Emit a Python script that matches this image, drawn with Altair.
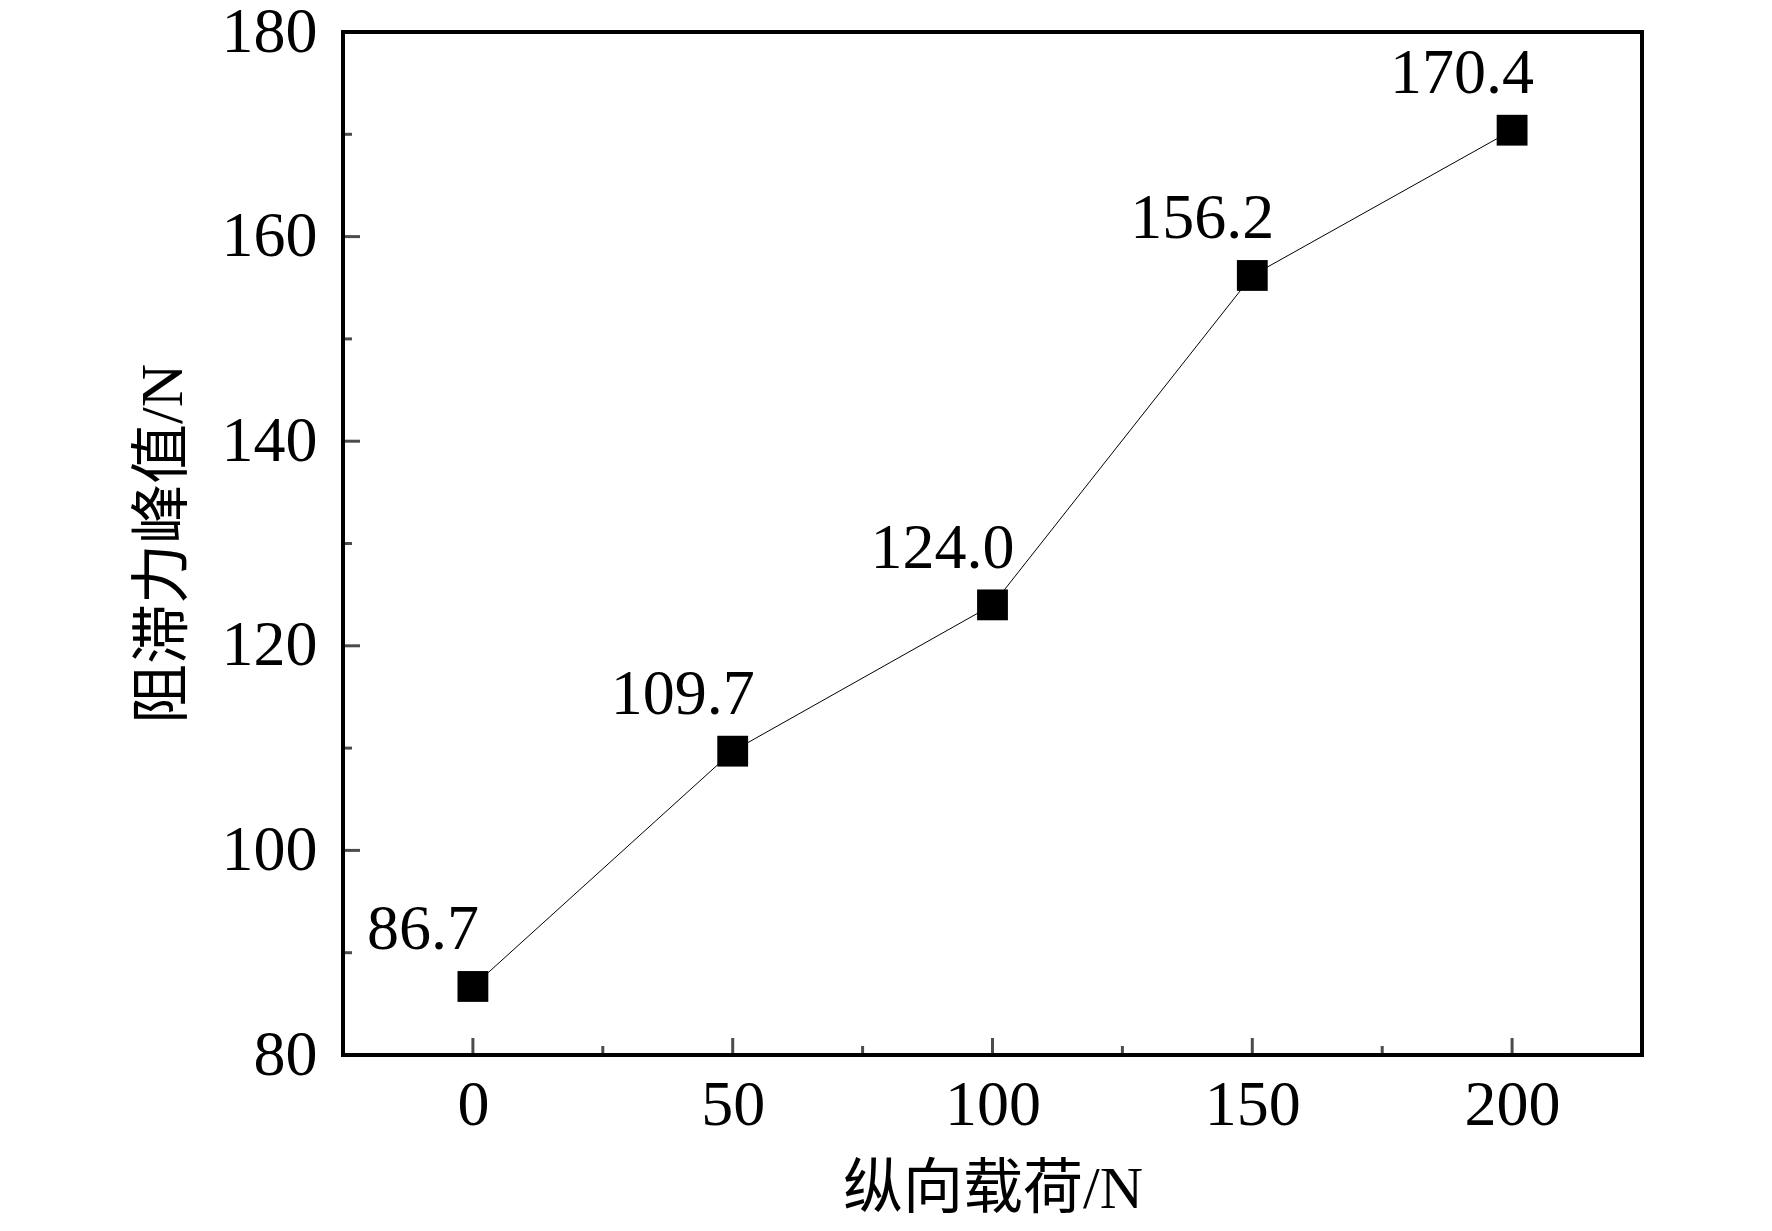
import altair as alt
import pandas as pd

loads = [0, 50, 100, 150, 200]
peaks = [86.7, 109.7, 124.0, 156.2, 170.4]
x_major = [0, 50, 100, 150, 200]
x_minor = [25, 75, 125, 175]
y_major = [80, 100, 120, 140, 160, 180]
y_minor = [90, 110, 130, 150, 170]

df = pd.DataFrame({"load": loads, "peak": peaks})
FONT = "Liberation Serif, Times New Roman, Noto Sans CJK SC"
W, H = 1299, 1023

xs = alt.Scale(domain=[-25, 225], nice=False, zero=False)
ys = alt.Scale(domain=[80, 180], nice=False, zero=False)

x_axis = alt.Axis(values=x_major, ticks=False, domain=False, grid=False,
                  labelFont=FONT, labelFontSize=64, labelColor="black",
                  labelPadding=18, title="纵向载荷/N", titleFont=FONT,
                  titleFontSize=60, titleFontWeight="normal", titleColor="black",
                  titleX=W / 2, titleY=134, titleBaseline="middle", titleAlign="center")
y_axis = alt.Axis(values=y_major, ticks=False, domain=False, grid=False,
                  labelFont=FONT, labelFontSize=64, labelColor="black",
                  labelPadding=26, title="阻滞力峰值/N", titleFont=FONT,
                  titleFontSize=60, titleFontWeight="normal", titleColor="black",
                  titleX=-180, titleY=H / 2, titleAngle=-90,
                  titleBaseline="middle", titleAlign="center")

line = alt.Chart(df).mark_line(color="black", strokeWidth=1).encode(
    x=alt.X("load:Q", scale=xs, axis=x_axis),
    y=alt.Y("peak:Q", scale=ys, axis=y_axis),
)
pts = alt.Chart(df).mark_point(shape="square", filled=True, color="black",
                               size=950, opacity=1).encode(
    x=alt.X("load:Q", scale=xs), y=alt.Y("peak:Q", scale=ys))
labels = alt.Chart(df).mark_text(font=FONT, fontSize=64, color="black",
                                 dx=-50, dy=-56).encode(
    x=alt.X("load:Q", scale=xs), y=alt.Y("peak:Q", scale=ys),
    text=alt.Text("peak:Q", format=".1f"))

def xticks(vals, length):
    d = pd.DataFrame({"v": vals})
    return alt.Chart(d).mark_tick(orient="vertical", color="black",
                                  thickness=3, size=length, yOffset=-length / 2).encode(
        x=alt.X("v:Q", scale=xs), y=alt.datum(80, scale=ys))

def yticks(vals, length):
    d = pd.DataFrame({"v": vals})
    return alt.Chart(d).mark_tick(orient="horizontal", color="black",
                                  thickness=3, size=length, xOffset=length / 2).encode(
        y=alt.Y("v:Q", scale=ys), x=alt.datum(-25, scale=xs))

chart = alt.layer(
    line, pts, labels,
    xticks(x_major, 17), xticks(x_minor, 9),
    yticks(y_major, 17), yticks(y_minor, 9),
).properties(
    width=W, height=H,
    autosize=alt.AutoSizeParams(type="none"),
    padding={"left": 335, "top": 24, "right": 100, "bottom": 170},
).configure(
    background="white",
    view=alt.ViewConfig(stroke="black", strokeWidth=4),
)

chart.save("out.html", embed_options={"renderer": "svg", "actions": False})
